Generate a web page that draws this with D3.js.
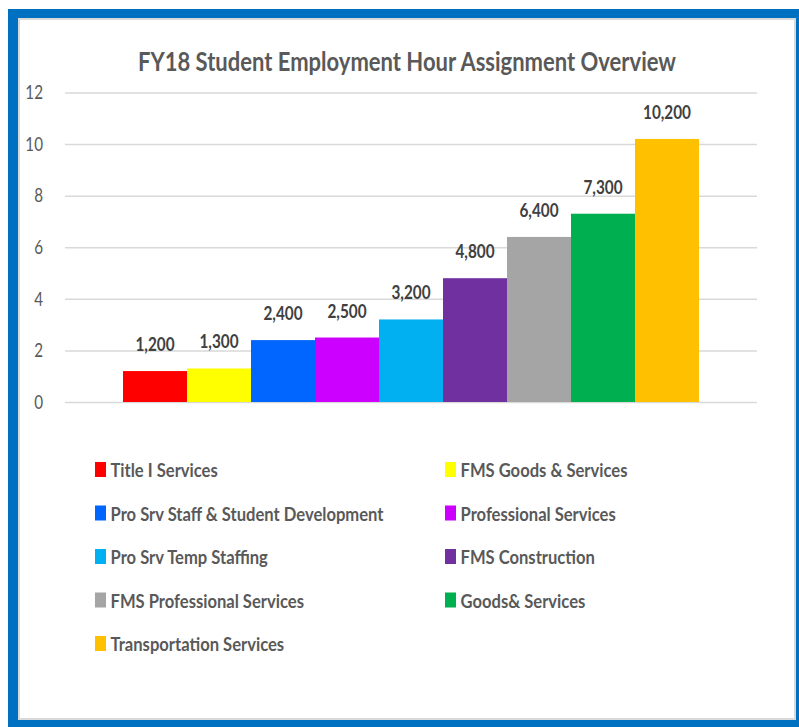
<!DOCTYPE html>
<html>
<head>
<meta charset="utf-8">
<script src="https://cdn.jsdelivr.net/npm/d3@7"></script>
<style>
  html, body { margin: 0; padding: 0; background: #ffffff; }
  svg { display: block; }
  text { font-family: Lato, "Open Sans", "DejaVu Sans", sans-serif; }
</style>
</head>
<body>
<svg id="chart" width="799" height="727"></svg>
<script>
const titleText = "FY18 Student Employment Hour Assignment Overview";
const categories = [
  "Title I Services",
  "FMS Goods & Services",
  "Pro Srv Staff & Student Development",
  "Professional Services",
  "Pro Srv Temp Staffing",
  "FMS Construction",
  "FMS Professional Services",
  "Goods& Services",
  "Transportation Services"
];
const values = [1200, 1300, 2400, 2500, 3200, 4800, 6400, 7300, 10200];
const colors = ["#FF0000", "#FFFF00", "#0066FF", "#CC00FF", "#00B0F0", "#7030A0", "#A5A5A5", "#00B050", "#FFC000"];
const yTickValues = [0, 2000, 4000, 6000, 8000, 10000, 12000];
const yTickLabels = ["0", "2", "4", "6", "8", "10", "12"];

const svg = d3.select("#chart");

// condense text horizontally (reference font is a narrow face)
function condense(sel, factor) {
  sel.each(function () {
    const w = this.getComputedTextLength();
    d3.select(this).attr("textLength", w * factor).attr("lengthAdjust", "spacingAndGlyphs");
  });
}

// Frame
svg.append("rect").attr("x", 8).attr("y", 9).attr("width", 800).attr("height", 730).attr("fill", "#0070C0");
svg.append("rect").attr("x", 18).attr("y", 18).attr("width", 778).attr("height", 702).attr("fill", "#D9D9D9");
svg.append("rect").attr("x", 20).attr("y", 20).attr("width", 774).attr("height", 698).attr("fill", "#FFFFFF");

// Scales
const gridLeft = 65, gridRight = 757;
const y = d3.scaleLinear().domain([0, 12000]).range([402, 92.5]);
const x = d3.scaleBand().domain(categories).range([123, 699]).paddingInner(0).paddingOuter(0);

// Title
const title = svg.append("text")
  .attr("x", 407).attr("y", 71)
  .attr("text-anchor", "middle")
  .attr("font-size", 26).attr("font-weight", "bold")
  .attr("fill", "#595959")
  .text(titleText);
title.attr("textLength", 538).attr("lengthAdjust", "spacingAndGlyphs");

// Y axis with gridlines
const yAxis = d3.axisLeft(y)
  .tickValues(yTickValues)
  .tickFormat((d, i) => yTickLabels[i])
  .tickSizeInner(-(gridRight - gridLeft))
  .tickSizeOuter(0)
  .tickPadding(22);

const gAxis = svg.append("g")
  .attr("transform", `translate(${gridLeft},0)`)
  .call(yAxis);
gAxis.select(".domain").remove();
gAxis.selectAll(".tick line").attr("stroke", "#D9D9D9").attr("stroke-width", 1.5);
const tickTexts = gAxis.selectAll(".tick text")
  .attr("fill", "#595959")
  .attr("font-size", 19.5)
  .style("font-family", 'Lato, "Open Sans", sans-serif');
condense(tickTexts, 0.78);

// Bars
const data = categories.map((c, i) => ({ cat: c, value: values[i], color: colors[i] }));
svg.append("g").selectAll("rect")
  .data(data)
  .join("rect")
  .attr("x", d => x(d.cat))
  .attr("y", d => y(d.value))
  .attr("width", x.bandwidth())
  .attr("height", d => y(0) - y(d.value))
  .attr("fill", d => d.color);

// Data labels
const fmt = d3.format(",");
const labels = svg.append("g").selectAll("text")
  .data(data)
  .join("text")
  .attr("x", d => x(d.cat) + x.bandwidth() / 2)
  .attr("y", d => y(d.value) - 20)
  .attr("text-anchor", "middle")
  .attr("font-size", 19.5).attr("font-weight", "bold")
  .attr("fill", "#404040")
  .text(d => fmt(d.value));
{
  const ref = labels.filter((d, i) => i === labels.size() - 1).node();
  const f = 48 / ref.getComputedTextLength();
  condense(labels, f);
}

// Legend (two columns)
const legendColX = [95, 445];
const legendRow0 = 469.5, legendStep = 43.5;
const lg = svg.append("g").selectAll("g")
  .data(data)
  .join("g")
  .attr("transform", (d, i) => `translate(${legendColX[i % 2]},${legendRow0 + Math.floor(i / 2) * legendStep})`);
lg.append("rect")
  .attr("x", 0).attr("y", -7.5)
  .attr("width", 11).attr("height", 15)
  .attr("fill", d => d.color);
const legTexts = lg.append("text")
  .attr("x", 15.5).attr("y", 7.5)
  .attr("font-size", 19.5).attr("font-weight", "bold")
  .attr("fill", "#595959")
  .text(d => d.cat);
{
  const ref = legTexts.filter((d, i) => i === 2).node();
  const f = 273 / ref.getComputedTextLength();
  condense(legTexts, f);
}
</script>
</body>
</html>
